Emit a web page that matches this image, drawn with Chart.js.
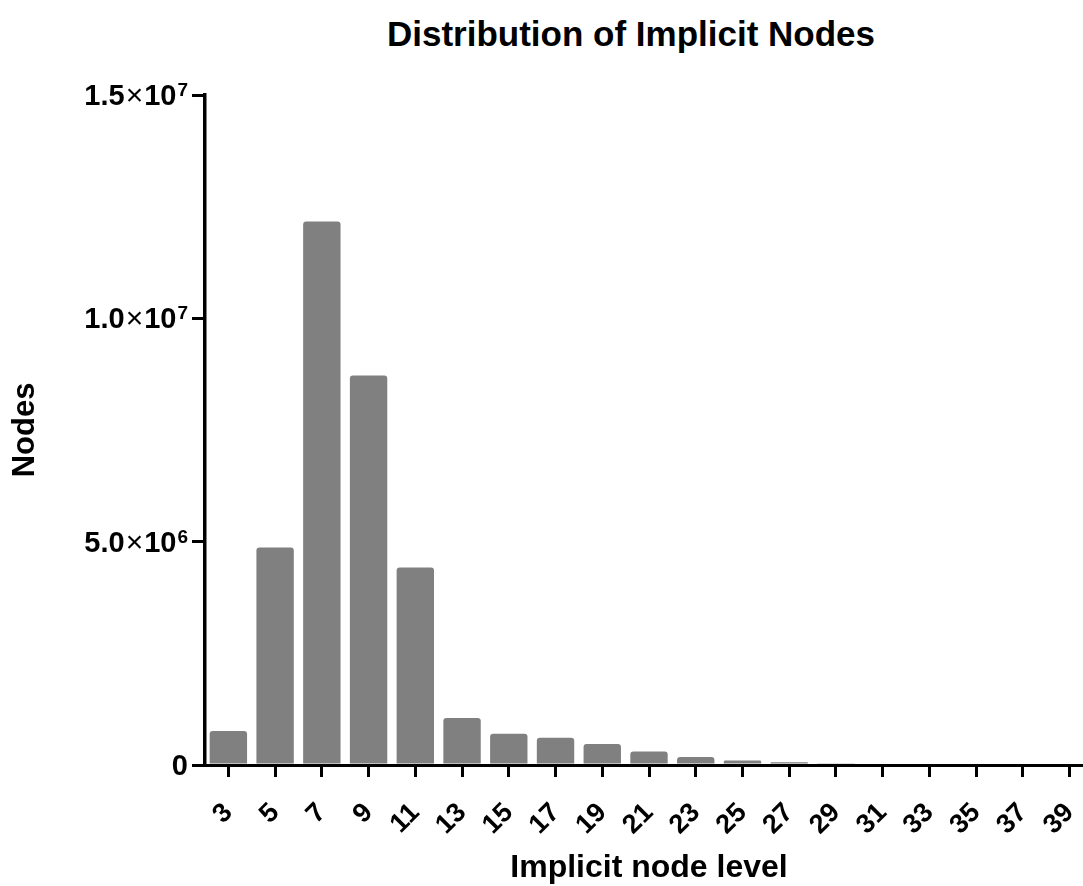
<!DOCTYPE html>
<html lang="en">
<head>
    <meta charset="UTF-8">
    <title>Distribution of Implicit Nodes</title>
    <script src="https://cdn.jsdelivr.net/npm/chart.js"></script>
    <style>
        body { margin: 0; background: #fff; overflow: hidden; font-family: "Liberation Sans", Arial, sans-serif; }
        #title { position: absolute; top: 14px; left: 331px; width: 600px; text-align: center;
                 font-size: 35px; font-weight: bold; color: #000; }
        #wrap { position: absolute; left: 0; top: 0; width: 1093px; height: 886px; }
    </style>
</head>
<body>
    <div id="title">Distribution of Implicit Nodes</div>
    <div id="wrap"><canvas id="nodesChart"></canvas></div>

    <script>
        // implicit node level (x) and node counts (y)
        const levels = ['3', '5', '7', '9', '11', '13', '15', '17', '19', '21',
                        '23', '25', '27', '29', '31', '33', '35', '37', '39'];
        const nodeCounts = [760000, 4870000, 12170000, 8720000, 4420000, 1050000, 700000, 610000,
                            470000, 300000, 180000, 100000, 60000, 40000, 0, 0, 0, 0, 0];

        // y ticks shown as mantissa x 10^exp
        const yTickValues = [0, 5000000, 10000000, 15000000];
        const yTickMantissa = ['0', '5.0', '1.0', '1.5'];
        const yTickExponent = ['', '6', '7', '7'];

        const FONT = '"Liberation Sans", Arial, sans-serif';

        // draws the y labels with a real superscript
        const sciLabels = {
            id: 'sciLabels',
            afterDraw(chart) {
                const y = chart.scales.y;
                const ctx = chart.ctx;
                ctx.save();
                ctx.fillStyle = '#000';
                ctx.textBaseline = 'alphabetic';
                ctx.textAlign = 'left';
                yTickValues.forEach((v, i) => {
                    const py = y.getPixelForValue(v);
                    const mant = yTickMantissa[i];
                    const exp = yTickExponent[i];
                    const right = y.right - 17;
                    const base = py + 10;
                    ctx.font = 'bold 29px ' + FONT;
                    if (!exp) {
                        ctx.fillText(mant, right - ctx.measureText(mant).width, base);
                        return;
                    }
                    const wM = ctx.measureText(mant).width;
                    const wT = ctx.measureText('10').width;
                    ctx.font = '30px ' + FONT;
                    const wX = ctx.measureText('\u00d7').width;
                    ctx.font = 'bold 19px ' + FONT;
                    const wE = ctx.measureText(exp).width;
                    let x = right - (wM + wX + wT + wE + 3);
                    ctx.font = 'bold 29px ' + FONT;
                    ctx.fillText(mant, x, base); x += wM + 1;
                    ctx.font = '30px ' + FONT;
                    ctx.fillText('\u00d7', x, base); x += wX + 1;
                    ctx.font = 'bold 29px ' + FONT;
                    ctx.fillText('10', x, base); x += wT + 1;
                    ctx.font = 'bold 19px ' + FONT;
                    ctx.fillText(exp, x, py + 1);
                });
                ctx.restore();
            }
        };

        const ctx = document.getElementById('nodesChart').getContext('2d');
        new Chart(ctx, {
            type: 'bar',
            data: {
                labels: levels,
                datasets: [{
                    label: 'Nodes',
                    data: nodeCounts,
                    backgroundColor: '#808080',
                    borderRadius: 3,
                    borderSkipped: 'bottom',
                    barPercentage: 0.8,
                    categoryPercentage: 1.0
                }]
            },
            options: {
                responsive: true,
                maintainAspectRatio: false,
                animation: false,
                layout: { padding: { top: 95, right: 0, bottom: 0, left: 0 } },
                plugins: { legend: { display: false }, tooltip: { enabled: false } },
                scales: {
                    x: {
                        offset: true,
                        grid: { offset: false, drawOnChartArea: false, color: '#000', lineWidth: 3, tickLength: 12 },
                        border: { color: '#000', width: 3 },
                        ticks: {
                            color: '#000', font: { family: FONT, size: 27, weight: 'bold' },
                            minRotation: 45, maxRotation: 45, padding: 20, autoSkip: false
                        },
                        title: {
                            display: true, text: 'Implicit node level', color: '#000',
                            font: { family: FONT, size: 32, weight: 'bold', lineHeight: 1.1 },
                            padding: 0
                        },
                        afterFit(scale) { scale.height = 121; scale.paddingLeft = 0; scale.paddingRight = 0; }
                    },
                    y: {
                        min: 0, max: 15000000,
                        afterBuildTicks(scale) { scale.ticks = yTickValues.map(v => ({ value: v })); },
                        grid: { drawOnChartArea: false, color: '#000', lineWidth: 3, tickLength: 13 },
                        border: { color: '#000', width: 3.5 },
                        ticks: { display: false },
                        title: {
                            display: true, text: 'Nodes', color: '#000',
                            font: { family: FONT, size: 31, weight: 'bold', lineHeight: 1.2 },
                            padding: { top: 7, bottom: 0 }
                        },
                        afterFit(scale) { scale.width = 205; }
                    }
                }
            },
            plugins: [sciLabels]
        });
    </script>
</body>
</html>
